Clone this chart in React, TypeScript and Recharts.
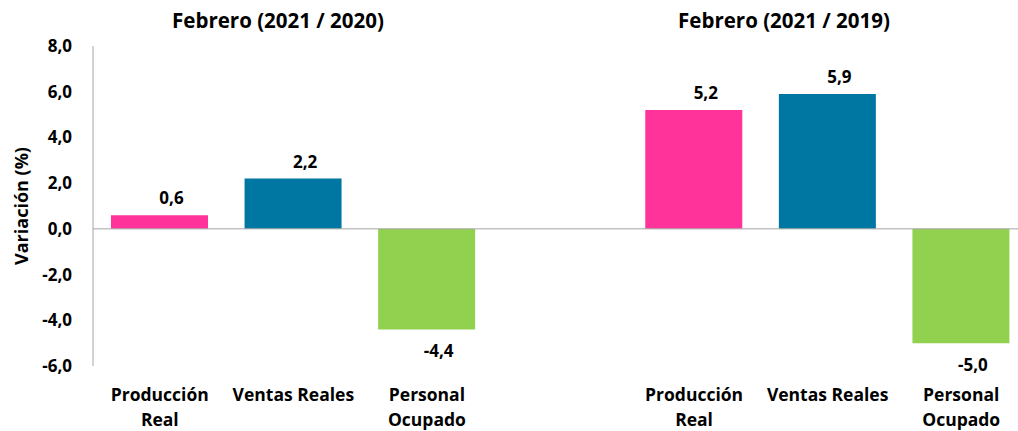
import React from 'react';
import { BarChart, Bar, XAxis, YAxis, Cell, LabelList, ReferenceLine } from 'recharts';

// one empty slot separates the two comparisons
const categories = [
    'Producción\nReal',
    'Ventas Reales',
    'Personal\nOcupado',
    '',
    'Producción\nReal',
    'Ventas Reales',
    'Personal\nOcupado'
];
const values: (number | null)[] = [0.6, 2.2, -4.4, null, 5.2, 5.9, -5.0];
const barColors = ['#FF3399', '#0077A3', '#92D050', '#ffffff', '#FF3399', '#0077A3', '#92D050'];
const groupTitles = ['Febrero (2021 / 2020)', 'Febrero (2021 / 2019)'];
const yTicks = [-6, -4, -2, 0, 2, 4, 6, 8];

const FONT = '"Open Sans", Lato, sans-serif';

const data = categories.map((c, i) => ({ id: `c${i}`, label: c, value: values[i] }));

const fmt = (v: number) => v.toFixed(1).replace('.', ',');

const XTick = (props: any) => {
    const { x, y, index } = props;
    const lines = (categories[index] || '').split('\n');
    return (
        <text x={x} y={y} textAnchor="middle" fill="#000" fontFamily={FONT} fontWeight={700} fontSize={17.5}>
            {lines.map((l, i) => (
                <tspan key={i} x={x} dy={i === 0 ? 35 : 25}>{l}</tspan>
            ))}
        </text>
    );
};

const ValueLabel = (props: any) => {
    const { x, y, width, height, value } = props;
    if (value == null) return null;
    const top = Math.min(y, y + height);
    const bottom = Math.max(y, y + height);
    const cx = x + width / 2 + 12;
    const ty = value >= 0 ? top - 11 : bottom + 28;
    return (
        <text x={cx} y={ty} textAnchor="middle" fill="#000" fontFamily={FONT} fontWeight={700} fontSize={17}>
            {fmt(value)}
        </text>
    );
};

const App: React.FC = () => {
    return (
        <div style={{ position: 'absolute', left: 0, top: 0, width: 1018, height: 431, overflow: 'hidden', background: '#fff', fontFamily: FONT }}>
            <div style={{ position: 'absolute', left: 278 - 150, top: 6, width: 300, textAlign: 'center', fontWeight: 700, fontSize: 20.5, color: '#000' }}>
                {groupTitles[0]}
            </div>
            <div style={{ position: 'absolute', left: 784 - 150, top: 6, width: 300, textAlign: 'center', fontWeight: 700, fontSize: 20.5, color: '#000' }}>
                {groupTitles[1]}
            </div>
            <BarChart
                width={1030}
                height={431}
                data={data}
                margin={{ top: 46, right: 2, left: 0, bottom: 5 }}
                barSize={97}
            >
                <XAxis
                    dataKey="id"
                    axisLine={false}
                    tickLine={false}
                    tickSize={0}
                    tickMargin={0}
                    height={60}
                    interval={0}
                    tick={<XTick />}
                />
                <YAxis
                    width={93}
                    domain={[-6, 8]}
                    ticks={yTicks}
                    interval={0}
                    tickFormatter={fmt}
                    axisLine={{ stroke: '#A6A6A6', strokeWidth: 1 }}
                    tickLine={false}
                    tickSize={0}
                    tickMargin={21}
                    tick={{ fill: '#000', fontSize: 17, fontWeight: 700, fontFamily: FONT }}
                    label={{
                        value: 'Variación (%)',
                        angle: -90,
                        position: 'insideLeft',
                        offset: 22,
                        style: { textAnchor: 'middle', fill: '#000', fontSize: 18, fontWeight: 700, fontFamily: FONT }
                    }}
                />
                <ReferenceLine y={0} stroke="#A6A6A6" strokeWidth={1} />
                <Bar dataKey="value" isAnimationActive={false}>
                    {data.map((d, i) => (
                        <Cell key={d.id} fill={barColors[i]} />
                    ))}
                    <LabelList dataKey="value" content={<ValueLabel />} />
                </Bar>
            </BarChart>
        </div>
    );
};

export default App;
